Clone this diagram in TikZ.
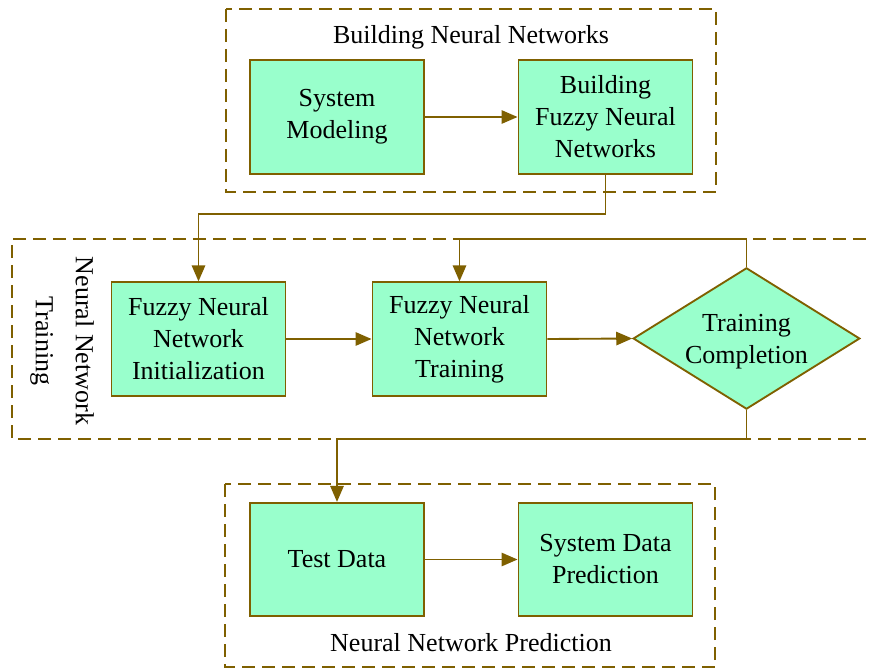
\documentclass[tikz,border=0pt]{standalone}
\usepackage{fontspec}
\setmainfont{Liberation Serif}
\usetikzlibrary{shapes.geometric,arrows.meta}
\definecolor{brd}{RGB}{127,96,0}
\definecolor{mint}{RGB}{153,255,204}
\begin{document}
\begin{tikzpicture}[x=0.75pt,y=-0.75pt,
  font=\fontsize{19.5}{24}\selectfont,
  box/.style={draw=brd,fill=mint,line width=1.4pt,minimum width=130.5pt,minimum height=85pt,align=center,inner sep=0pt},
  grp/.style={draw=brd,line width=1.4pt,dash pattern=on 9.5pt off 5.5pt},
  arr/.style={draw=brd,line width=1.4pt,-{Triangle[length=12pt,width=10pt]}},
  ln/.style={draw=brd,line width=1.4pt}]
\useasboundingbox (0,0) rectangle (871,670);
% group frames
\draw[grp] (226,9) rectangle (716,192);
\draw[grp] (866,239) -- (12,239) -- (12,439) -- (866,439);
\draw[grp] (225,484) rectangle (715,667);
% labels
\node (t1) at (471,37) {Building Neural Networks};
\node (t2) at (471,643) {Neural Network Prediction};
\node[rotate=-90,align=center,font=\fontsize{19.5}{30}\selectfont] (t3) at (62,341) {Neural Network\\Training};
% boxes
\node[box] (sm) at (337,117) {\raisebox{-3pt}{}System\\Modeling};
\node[box] (bf) at (605.5,117) {Building\\Fuzzy Neural\\Networks};
\node[box] (fi) at (198.5,339) {Fuzzy Neural\\Network\\Initialization};
\node[box] (ft) at (459.5,339) {Fuzzy Neural\\Network\\Training};
\node[diamond,draw=brd,fill=mint,line width=1.4pt,minimum width=170pt,minimum height=106pt,inner sep=0pt] (tc) at (746.5,338.5) {};
\node[align=center] (tct) at ([yshift=-2.5pt]tc.center) {Training\\Completion};
\node[box] (td) at (337,559.5) {Test Data};
\node[box] (sd) at (605.5,559.5) {System Data\\Prediction};
% connectors
\draw[arr] (sm) -- (bf);
\draw[arr] (td) -- (sd);
\draw[arr] (fi) -- (ft);
\draw[arr] (ft.east) -- (tc.west);
\draw[arr] (bf.south) -- (bf.south |- 0,214) -| (fi.north);
\draw[arr] (tc.north) -- (tc.north |- 0,239) -| (ft.north);
\draw[arr] (tc.south) -- (tc.south |- 0,439) -| (td.north);
\end{tikzpicture}
\end{document}
